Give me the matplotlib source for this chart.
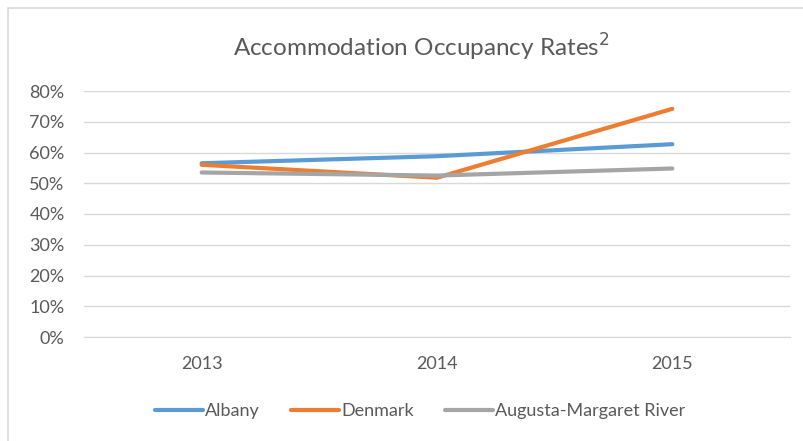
import matplotlib.pyplot as plt
from matplotlib.patches import Rectangle
from matplotlib.ticker import FuncFormatter

years = ['2013', '2014', '2015']
albany = [0.565, 0.588, 0.627]
denmark = [0.560, 0.518, 0.742]
augusta = [0.535, 0.525, 0.548]

series = [('Albany', albany, '#5B9BD5'),
          ('Denmark', denmark, '#ED7D31'),
          ('Augusta-Margaret River', augusta, '#A5A5A5')]

plt.rcParams['font.family'] = ['Lato', 'DejaVu Sans']

W, H = 804, 441
fig = plt.figure(figsize=(W / 100, H / 100), dpi=100)
fig.patch.set_facecolor('white')

# outer chart border
fig.add_artist(Rectangle((8 / W, -0.01), 1.0, 1 - 8 / H + 0.01, transform=fig.transFigure,
                         fill=False, edgecolor='#D9D9D9', linewidth=1.2))

ax = fig.add_axes([84 / W, 1 - 337 / H, (790 - 84) / W, (337 - 91) / H])
x = list(range(len(years)))
for name, vals, col in series:
    ax.plot(x, vals, color=col, linewidth=3, label=name, solid_capstyle='round')

ax.set_xlim(-0.5, 2.5)
ax.set_ylim(0, 0.8)
ax.set_yticks([i / 10 for i in range(9)])
ax.yaxis.set_major_formatter(FuncFormatter(lambda v, p: f'{v:.0%}'))
ax.set_xticks(x)
ax.set_xticklabels(years)
ax.grid(axis='y', color='#D9D9D9', linewidth=1)
ax.set_axisbelow(True)
for s in ['top', 'right', 'left']:
    ax.spines[s].set_visible(False)
ax.spines['bottom'].set_color('#D9D9D9')
ax.tick_params(axis='both', length=0, colors='#595959', labelsize=13)
ax.tick_params(axis='y', pad=14)
ax.tick_params(axis='x', pad=14)

fig.text(421 / W, 1 - 47 / H, 'Accommodation Occupancy Rates$^2$',
         ha='center', va='center', fontsize=17.5, color='#595959')

leg = fig.legend(loc='center', bbox_to_anchor=(420 / W, 1 - 411 / H), ncol=3, frameon=False,
                 fontsize=13, handlelength=2.7, handletextpad=0.1, columnspacing=1.7)
for t in leg.get_texts():
    t.set_color('#595959')

fig.savefig('out.png', dpi=100)
